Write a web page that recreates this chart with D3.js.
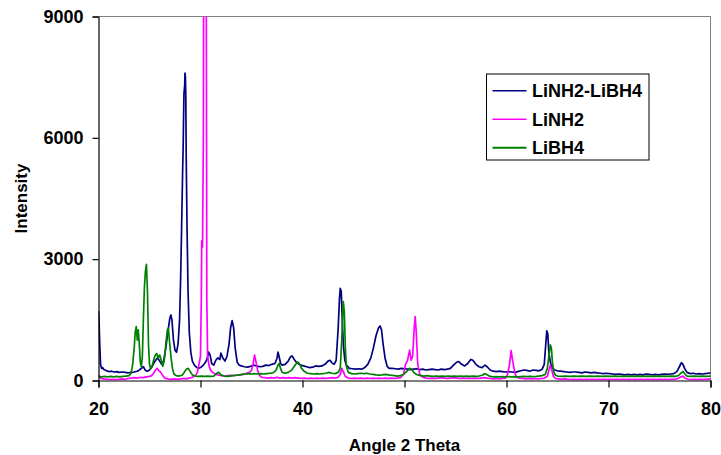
<!DOCTYPE html>
<html>
<head>
<meta charset="utf-8">
<script src="https://cdn.jsdelivr.net/npm/d3@7"></script>
<style>
  html, body { margin: 0; padding: 0; background: #fff; }
  svg { display: block; font-family: "Liberation Sans", Arial, sans-serif; font-weight: bold; }
</style>
</head>
<body>
<svg id="chart" width="721" height="455"></svg>
<script>
// XRD patterns: [2θ (deg), intensity (counts)]
const seriesNames = ["LiNH2-LiBH4", "LiNH2", "LiBH4"];
const seriesColors = ["#000080", "#FF00FF", "#008000"];

const mixPattern = [
  [20.0,1720],[20.05,1500],[20.12,900],[20.2,400],[20.3,300],[20.4,320],[20.5,280],[20.7,250],[20.9,230],[21.1,220],
  [21.3,230],[21.5,210],[21.8,220],[22.0,200],[22.3,210],[22.6,200],[22.9,190],[23.2,200],[23.5,210],[23.8,230],
  [24.0,260],[24.2,300],[24.4,340],[24.6,250],[24.8,230],[25.0,260],[25.2,320],[25.4,420],[25.6,500],[25.8,560],
  [26.0,480],[26.2,400],[26.4,500],[26.6,800],[26.8,1200],[27.0,1550],[27.1,1620],[27.2,1500],[27.35,1000],[27.5,750],
  [27.65,700],[27.8,900],[27.95,1500],[28.05,2500],[28.15,3800],[28.25,5200],[28.3,5800],[28.38,7100],[28.45,7300],[28.48,7600],
  [28.52,7500],[28.56,7000],[28.6,5500],[28.68,3800],[28.78,2200],[28.9,1200],[29.05,700],[29.2,480],[29.4,380],[29.6,330],
  [29.8,300],[30.0,320],[30.2,360],[30.4,420],[30.6,500],[30.8,700],[30.95,620],[31.1,420],[31.3,380],[31.5,500],
  [31.7,560],[31.9,520],[32.0,680],[32.2,550],[32.4,480],[32.6,600],[32.8,900],[32.95,1300],[33.1,1480],[33.25,1300],
  [33.4,800],[33.6,450],[33.8,380],[34.0,360],[34.3,340],[34.6,330],[34.9,350],[35.2,380],[35.5,360],[35.8,340],
  [36.1,350],[36.4,380],[36.7,370],[37.0,400],[37.3,420],[37.5,550],[37.6,700],[37.7,600],[37.85,420],[38.0,380],
  [38.3,400],[38.6,480],[38.8,580],[38.95,610],[39.1,560],[39.3,480],[39.5,430],[39.8,380],[40.1,360],[40.4,340],
  [40.7,320],[41.0,330],[41.3,360],[41.6,350],[41.9,360],[42.2,400],[42.5,480],[42.7,500],[42.9,430],[43.1,400],
  [43.3,500],[43.5,1300],[43.62,2000],[43.7,2280],[43.8,2200],[43.9,1500],[44.0,900],[44.15,500],[44.3,380],[44.6,300],
  [44.9,290],[45.2,280],[45.5,290],[45.8,280],[46.1,320],[46.4,400],[46.7,560],[46.95,800],[47.2,1100],[47.45,1300],
  [47.6,1350],[47.75,1250],[47.9,900],[48.1,550],[48.3,350],[48.5,300],[48.8,300],[49.1,290],[49.4,280],[49.7,300],
  [50.0,290],[50.3,280],[50.6,270],[50.9,280],[51.2,290],[51.5,270],[51.8,280],[52.1,260],[52.4,270],[52.7,280],
  [53.0,270],[53.3,260],[53.6,280],[53.9,270],[54.2,280],[54.5,300],[54.8,380],[55.1,450],[55.3,470],[55.6,400],
  [55.9,360],[56.2,420],[56.5,520],[56.7,500],[57.0,400],[57.3,340],[57.6,320],[57.9,380],[58.1,340],[58.4,260],
  [58.7,230],[59.0,220],[59.3,230],[59.6,220],[59.9,210],[60.2,220],[60.5,210],[60.8,200],[61.1,220],[61.4,240],
  [61.7,260],[62.0,250],[62.3,230],[62.6,260],[62.9,250],[63.2,240],[63.5,280],[63.7,400],[63.85,900],[63.95,1230],
  [64.05,1150],[64.15,700],[64.3,450],[64.45,320],[64.7,260],[65.0,240],[65.3,230],[65.6,220],[65.9,210],[66.2,200],
  [66.5,210],[66.8,210],[67.1,200],[67.4,190],[67.7,210],[68.0,200],[68.3,190],[68.6,200],[68.9,190],[69.2,180],
  [69.5,170],[69.8,180],[70.1,170],[70.4,160],[70.7,150],[71.0,160],[71.3,150],[71.6,140],[71.9,150],[72.2,140],
  [72.5,150],[72.8,140],[73.1,150],[73.4,140],[73.7,160],[74.0,150],[74.3,140],[74.6,150],[74.9,140],[75.2,150],
  [75.5,160],[75.8,150],[76.1,160],[76.4,170],[76.7,220],[76.95,340],[77.15,440],[77.3,400],[77.5,280],[77.7,200],
  [78.0,170],[78.3,180],[78.6,160],[78.9,170],[79.2,160],[79.5,170],[79.8,180],[80.0,180]
];

const amidePattern = [
  [20.0,130],[20.2,60],[20.5,40],[20.8,30],[21.1,20],[21.4,30],[21.7,20],[22.0,30],[22.3,40],[22.6,30],
  [22.9,50],[23.2,60],[23.5,70],[23.8,60],[24.1,80],[24.4,70],[24.7,90],[25.0,100],[25.2,120],[25.4,180],
  [25.6,260],[25.75,300],[25.9,250],[26.1,200],[26.3,120],[26.5,60],[26.8,40],[27.1,30],[27.4,40],[27.7,30],
  [28.0,40],[28.3,50],[28.6,40],[28.9,60],[29.2,80],[29.5,120],[29.7,200],[29.85,400],[30.0,600],[30.08,2000],
  [30.12,3450],[30.2,3300],[30.28,6000],[30.33,12000],[30.55,12000],[30.62,2000],[30.7,600],[30.85,350],[31.0,250],[31.2,200],
  [31.5,150],[31.8,130],[32.1,120],[32.4,110],[32.7,120],[33.0,130],[33.3,120],[33.6,130],[33.9,140],[34.2,150],
  [34.5,180],[34.8,200],[35.0,250],[35.15,400],[35.3,630],[35.45,450],[35.6,250],[35.8,120],[36.0,80],[36.3,70],
  [36.6,60],[36.9,70],[37.2,60],[37.5,80],[37.8,60],[38.1,70],[38.4,60],[38.7,70],[39.0,60],[39.3,70],
  [39.6,60],[39.9,50],[40.2,60],[40.5,50],[40.8,60],[41.1,50],[41.4,60],[41.7,50],[42.0,60],[42.3,50],
  [42.6,60],[42.9,70],[43.2,60],[43.5,80],[43.7,150],[43.85,300],[44.0,220],[44.2,100],[44.5,60],[44.8,50],
  [45.1,60],[45.4,50],[45.7,60],[46.0,50],[46.3,60],[46.6,50],[46.9,60],[47.2,50],[47.5,60],[47.8,50],
  [48.1,60],[48.4,50],[48.7,60],[49.0,50],[49.3,60],[49.6,70],[49.9,150],[50.1,400],[50.3,500],[50.5,750],
  [50.65,500],[50.8,600],[50.95,1300],[51.05,1580],[51.15,1200],[51.3,400],[51.5,150],[51.8,80],[52.1,60],[52.4,50],
  [52.7,60],[53.0,50],[53.3,60],[53.6,70],[53.9,60],[54.2,50],[54.5,60],[54.8,70],[55.1,60],[55.4,50],
  [55.7,60],[56.0,50],[56.3,60],[56.6,50],[56.9,60],[57.2,50],[57.5,60],[57.8,70],[58.1,60],[58.4,50],
  [58.7,40],[59.0,50],[59.3,40],[59.6,50],[59.9,60],[60.1,150],[60.3,400],[60.45,740],[60.6,500],[60.8,200],
  [61.0,80],[61.3,60],[61.6,50],[61.9,40],[62.2,50],[62.5,40],[62.8,50],[63.1,40],[63.4,50],[63.7,60],
  [64.0,100],[64.2,300],[64.3,380],[64.45,250],[64.6,100],[64.8,50],[65.1,40],[65.4,30],[65.7,40],[66.0,30],
  [66.3,20],[66.6,30],[66.9,20],[67.2,30],[67.5,20],[67.8,30],[68.1,20],[68.4,30],[68.7,20],[69.0,30],
  [69.3,20],[69.6,30],[69.9,20],[70.2,30],[70.5,20],[70.8,30],[71.1,20],[71.4,30],[71.7,20],[72.0,30],
  [72.3,20],[72.6,30],[72.9,20],[73.2,30],[73.5,20],[73.8,30],[74.1,20],[74.4,30],[74.7,20],[75.0,30],
  [75.3,20],[75.6,30],[75.9,20],[76.2,30],[76.5,30],[76.8,50],[77.1,90],[77.3,110],[77.5,60],[77.8,30],
  [78.1,20],[78.4,30],[78.7,20],[79.0,30],[79.3,20],[79.6,30],[80.0,40]
];

const borohydridePattern = [
  [20.0,100],[20.3,90],[20.6,100],[20.9,90],[21.2,100],[21.5,90],[21.8,100],[22.1,90],[22.4,100],[22.7,110],
  [23.0,120],[23.2,180],[23.35,400],[23.5,800],[23.6,1200],[23.7,1330],[23.8,1000],[23.9,1250],[24.0,900],[24.1,450],
  [24.2,340],[24.3,600],[24.4,1500],[24.5,2300],[24.6,2700],[24.7,2870],[24.8,2200],[24.9,900],[25.0,400],[25.1,300],
  [25.25,350],[25.4,500],[25.55,620],[25.7,670],[25.85,560],[26.0,630],[26.15,500],[26.3,350],[26.45,500],[26.6,900],
  [26.75,1250],[26.85,1290],[26.95,1000],[27.1,600],[27.25,300],[27.4,160],[27.6,120],[27.9,110],[28.2,130],[28.4,200],
  [28.6,280],[28.8,300],[29.0,220],[29.2,140],[29.5,110],[29.8,100],[30.1,110],[30.4,100],[30.7,110],[31.0,100],
  [31.3,110],[31.6,180],[31.8,200],[32.0,140],[32.3,110],[32.6,100],[32.9,110],[33.2,120],[33.5,130],[33.8,140],
  [34.1,150],[34.4,160],[34.7,170],[35.0,160],[35.3,170],[35.6,160],[35.9,170],[36.2,160],[36.5,170],[36.8,180],
  [37.1,190],[37.4,250],[37.6,380],[37.7,420],[37.85,300],[38.0,200],[38.3,180],[38.6,200],[38.9,250],[39.2,350],
  [39.5,460],[39.7,420],[39.9,300],[40.2,220],[40.5,180],[40.8,170],[41.1,160],[41.4,170],[41.7,160],[42.0,170],
  [42.3,180],[42.6,200],[42.9,180],[43.2,170],[43.5,200],[43.7,300],[43.85,1000],[43.95,1700],[44.0,1950],[44.1,1700],
  [44.2,800],[44.3,350],[44.5,200],[44.8,170],[45.1,160],[45.4,170],[45.7,180],[46.0,170],[46.3,180],[46.6,160],
  [46.9,150],[47.2,140],[47.5,135],[47.8,140],[48.1,150],[48.4,140],[48.7,130],[49.0,120],[49.3,110],[49.6,120],
  [49.9,150],[50.2,220],[50.5,300],[50.7,280],[50.9,200],[51.1,160],[51.3,140],[51.6,120],[51.9,110],[52.2,120],
  [52.5,110],[52.8,100],[53.1,110],[53.4,100],[53.7,110],[54.0,100],[54.3,110],[54.6,100],[54.9,110],[55.2,100],
  [55.5,110],[55.8,100],[56.1,110],[56.4,100],[56.7,110],[57.0,100],[57.3,110],[57.6,130],[57.9,170],[58.1,140],
  [58.4,100],[58.7,90],[59.0,95],[59.3,90],[59.6,95],[59.9,90],[60.2,95],[60.5,90],[60.8,95],[61.1,90],
  [61.4,95],[61.7,100],[62.0,95],[62.3,100],[62.6,95],[62.9,100],[63.2,110],[63.5,120],[63.8,150],[64.0,300],
  [64.15,600],[64.3,880],[64.4,800],[64.5,450],[64.65,200],[64.8,130],[65.0,110],[65.4,100],[65.8,110],[66.2,100],
  [66.6,110],[67.0,100],[67.4,110],[67.8,100],[68.2,110],[68.6,100],[69.0,110],[69.4,100],[69.8,110],[70.2,100],
  [70.6,110],[71.0,100],[71.4,110],[71.8,100],[72.2,110],[72.6,100],[73.0,110],[73.4,100],[73.8,110],[74.2,100],
  [74.6,110],[75.0,100],[75.4,110],[75.8,100],[76.2,110],[76.6,100],[76.9,130],[77.1,180],[77.3,220],[77.5,160],
  [77.7,110],[78.0,100],[78.4,110],[78.8,100],[79.2,110],[79.6,100],[80.0,110]
];

const xTicks = [20, 30, 40, 50, 60, 70, 80];
const yTicks = [0, 3000, 6000, 9000];

const svg = d3.select("#chart");
const margin = { left: 98.5, right: 10.5, top: 16.5, bottom: 74.5 };
const W = 721, H = 455;
const plotW = W - margin.left - margin.right;
const plotH = H - margin.top - margin.bottom;

const x = d3.scaleLinear().domain([20, 80]).range([margin.left, margin.left + plotW]);
const y = d3.scaleLinear().domain([0, 9000]).range([margin.top + plotH, margin.top]);

// Plot-area frame: grey top and right edges
svg.append("path")
  .attr("d", `M${x(20)},${y(9000)}H${x(80)}V${y(0)}`)
  .attr("fill", "none").attr("stroke", "#808080").attr("stroke-width", 1);

svg.append("clipPath").attr("id", "plotClip")
  .append("rect")
  .attr("x", x(20)).attr("y", y(9000))
  .attr("width", x(80) - x(20)).attr("height", y(0) - y(9000));

const line = d3.line().x(d => x(d[0])).y(d => y(d[1]));
const patterns = [mixPattern, amidePattern, borohydridePattern];

const traces = svg.append("g").attr("clip-path", "url(#plotClip)");
patterns.forEach((p, i) => {
  traces.append("path")
    .datum(p)
    .attr("d", line)
    .attr("fill", "none")
    .attr("stroke", seriesColors[i])
    .attr("stroke-width", 1.7)
    .attr("stroke-linejoin", "round");
});

// Axes
const xAxis = d3.axisBottom(x).tickValues(xTicks).tickSize(7).tickPadding(15).tickFormat(d3.format("d"));
const yAxis = d3.axisLeft(y).tickValues(yTicks).tickSize(6).tickPadding(9).tickFormat(d3.format("d"));

const gx = svg.append("g").attr("transform", `translate(0,${y(0)})`).call(xAxis);
const gy = svg.append("g").attr("transform", `translate(${x(20)},0)`).call(yAxis);
[gx, gy].forEach(g => {
  g.select(".domain").attr("stroke", "#000").attr("stroke-width", 1.2);
  g.selectAll(".tick line").attr("stroke", "#000").attr("stroke-width", 1.2);
  g.selectAll(".tick text")
    .attr("fill", "#000")
    .style("font-family", "'Liberation Sans', Arial, sans-serif")
    .style("font-weight", "bold")
    .style("font-size", "18px");
});

// Axis titles
svg.append("text")
  .attr("x", (x(20) + x(80)) / 2).attr("y", 451)
  .attr("text-anchor", "middle")
  .style("font-size", "17px")
  .text("Angle 2 Theta");

svg.append("text")
  .attr("transform", `translate(27,${(y(0) + y(9000)) / 2}) rotate(-90)`)
  .attr("text-anchor", "middle")
  .style("font-size", "17px")
  .text("Intensity");

// Legend
const legend = svg.append("g").attr("transform", "translate(486.5,74)");
legend.append("rect")
  .attr("x", 0).attr("y", 0).attr("width", 162.5).attr("height", 86)
  .attr("fill", "#fff").attr("stroke", "#000").attr("stroke-width", 1);
seriesNames.forEach((name, i) => {
  const ry = 16.7 + i * 28.5;
  legend.append("line")
    .attr("x1", 6).attr("x2", 40).attr("y1", ry).attr("y2", ry)
    .attr("stroke", seriesColors[i]).attr("stroke-width", i === 2 ? 2 : 1.5);
  legend.append("text")
    .attr("x", 45.5).attr("y", ry).attr("dy", "0.36em")
    .style("font-size", "18px")
    .text(name);
});
</script>
</body>
</html>
